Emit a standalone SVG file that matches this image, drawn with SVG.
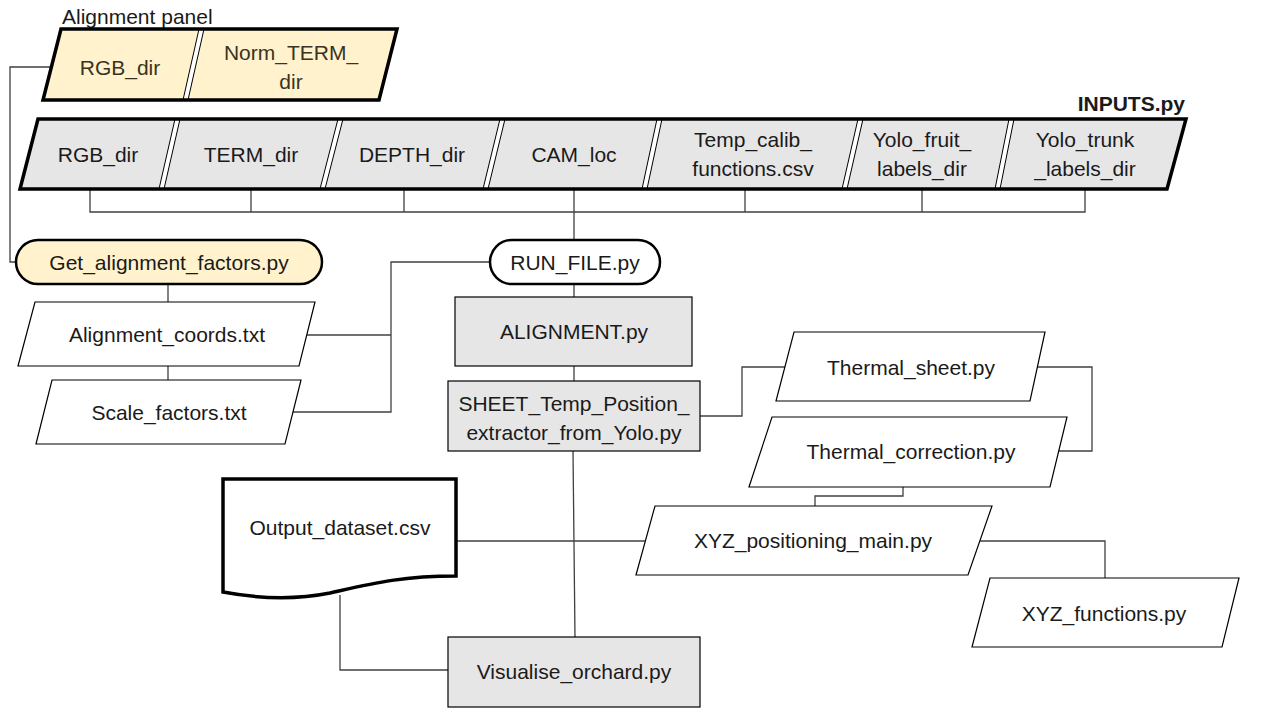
<svg xmlns="http://www.w3.org/2000/svg" width="1280" height="720" viewBox="0 0 1280 720">
<style>
text{font-family:"Liberation Sans",Arial,sans-serif;font-size:21px;fill:#1a1a1a;text-anchor:middle;dominant-baseline:central}
.cream{fill:#FFF2CC}
.gray{fill:#E7E6E6}
.thick{stroke:#000;stroke-width:3.5}
.thin{stroke:#000;stroke-width:1.2}
.div{fill:#fff;stroke:#000;stroke-width:1}
.c{fill:none;stroke:#404040;stroke-width:1.3}
</style>
<rect width="1280" height="720" fill="#fff"/>
<g id="connectors">
<polyline class="c" points="50,67 10,67 10,262 16,262"/>
<polyline class="c" points="90,189 90,212 1085,212 1085,189"/>
<line class="c" x1="251" y1="189" x2="251" y2="212"/>
<line class="c" x1="404" y1="189" x2="404" y2="212"/>
<line class="c" x1="574" y1="189" x2="574" y2="240"/>
<line class="c" x1="745" y1="189" x2="745" y2="212"/>
<line class="c" x1="922" y1="189" x2="922" y2="212"/>
<line class="c" x1="168" y1="284" x2="168" y2="302"/>
<line class="c" x1="168" y1="366" x2="168" y2="380"/>
<polyline class="c" points="490,262 391,262 391,412 290,412"/>
<line class="c" x1="391" y1="335" x2="307" y2="335"/>
<line class="c" x1="574" y1="284" x2="574" y2="297"/>
<line class="c" x1="574" y1="366" x2="574" y2="381"/>
<polyline class="c" points="700,416 742,416 742,367 785,367"/>
<polyline class="c" points="1037,367 1092,367 1092,451 1058,451"/>
<polyline class="c" points="903,487 903,496 815,496 815,506"/>
<polyline class="c" points="980,541 1105,541 1105,578"/>
<line class="c" x1="455" y1="541" x2="645" y2="541"/>
<line class="c" x1="573" y1="451" x2="575" y2="637"/>
<polyline class="c" points="340,595 340,670 448,670"/>
</g>
<g id="alignment-panel">
<text x="62" y="16" style="text-anchor:start">Alignment panel</text>
<polygon class="cream" points="61,29 397,29 379,100 43,100"/>
<polygon class="div" points="199,29 204,29 188,100 183,100"/>
<polygon fill="none" class="thick" points="61,29 397,29 379,100 43,100"/>
<text x="120" y="67" style="fill:#3a3222">RGB_dir</text>
<text x="291" y="52" style="fill:#3a3222">Norm_TERM_</text>
<text x="291" y="81" style="fill:#3a3222">dir</text>
</g>
<g id="inputs">
<text x="1185" y="103" style="text-anchor:end;font-weight:bold">INPUTS.py</text>
<polygon class="gray" points="38,119 1186,119 1167,189 20,189"/>
<polygon class="div" points="175,119 180,119 164,189 159,189"/>
<polygon class="div" points="338,119 343,119 325,189 320,189"/>
<polygon class="div" points="500,119 505,119 488,189 483,189"/>
<polygon class="div" points="657,119 662,119 647,189 642,189"/>
<polygon class="div" points="858,119 863,119 847,189 842,189"/>
<polygon class="div" points="1009,119 1014,119 1000,189 995,189"/>
<polygon fill="none" class="thick" points="38,119 1186,119 1167,189 20,189"/>
<text x="98" y="154">RGB_dir</text>
<text x="251" y="154">TERM_dir</text>
<text x="412" y="154">DEPTH_dir</text>
<text x="574" y="154">CAM_loc</text>
<text x="753" y="139">Temp_calib_</text>
<text x="753" y="168">functions.csv</text>
<text x="922" y="139">Yolo_fruit_</text>
<text x="922" y="168">labels_dir</text>
<text x="1085" y="139">Yolo_trunk</text>
<text x="1085" y="168">_labels_dir</text>
</g>
<g id="get-alignment-factors">
<rect class="cream thick" x="16" y="240" width="306" height="44" rx="22" style="stroke-width:2.5"/>
<text x="169" y="262">Get_alignment_factors.py</text>
</g>
<g id="run-file">
<rect fill="#fff" class="thick" x="490" y="240" width="170" height="44" rx="22" style="stroke-width:2.5"/>
<text x="575" y="262">RUN_FILE.py</text>
</g>
<g id="alignment-coords">
<polygon fill="#fff" class="thin" points="35,302 315,302 299,366 18,366"/>
<text x="167" y="334">Alignment_coords.txt</text>
</g>
<g id="scale-factors">
<polygon fill="#fff" class="thin" points="52,380 301,380 285,444 36,444"/>
<text x="169" y="412">Scale_factors.txt</text>
</g>
<g id="alignment">
<rect class="gray thin" x="455" y="297" width="237" height="69"/>
<text x="574" y="331">ALIGNMENT.py</text>
</g>
<g id="sheet">
<rect class="gray thin" x="448" y="381" width="252" height="70"/>
<text x="574" y="403">SHEET_Temp_Position_</text>
<text x="574" y="432">extractor_from_Yolo.py</text>
</g>
<g id="thermal-sheet">
<polygon fill="#fff" class="thin" points="794,332 1045,332 1030,401 776,401"/>
<text x="911" y="367">Thermal_sheet.py</text>
</g>
<g id="thermal-correction">
<polygon fill="#fff" class="thin" points="772,417 1067,417 1050,487 749,487"/>
<text x="911" y="451">Thermal_correction.py</text>
</g>
<g id="xyz-main">
<polygon fill="#fff" class="thin" points="655,506 992,506 968,575 636,575"/>
<text x="813" y="540">XYZ_positioning_main.py</text>
</g>
<g id="xyz-functions">
<polygon fill="#fff" class="thin" points="990,578 1239,578 1222,647 972,647"/>
<text x="1104" y="613">XYZ_functions.py</text>
</g>
<g id="output-dataset">
<path fill="#fff" class="thick" d="M223,479 H456 V576 C400,576 370,584 330,593 C290,601 255,598 223,592 Z"/>
<text x="340" y="527">Output_dataset.csv</text>
</g>
<g id="visualise">
<rect class="gray thin" x="448" y="637" width="252" height="70"/>
<text x="574" y="671">Visualise_orchard.py</text>
</g>
</svg>
